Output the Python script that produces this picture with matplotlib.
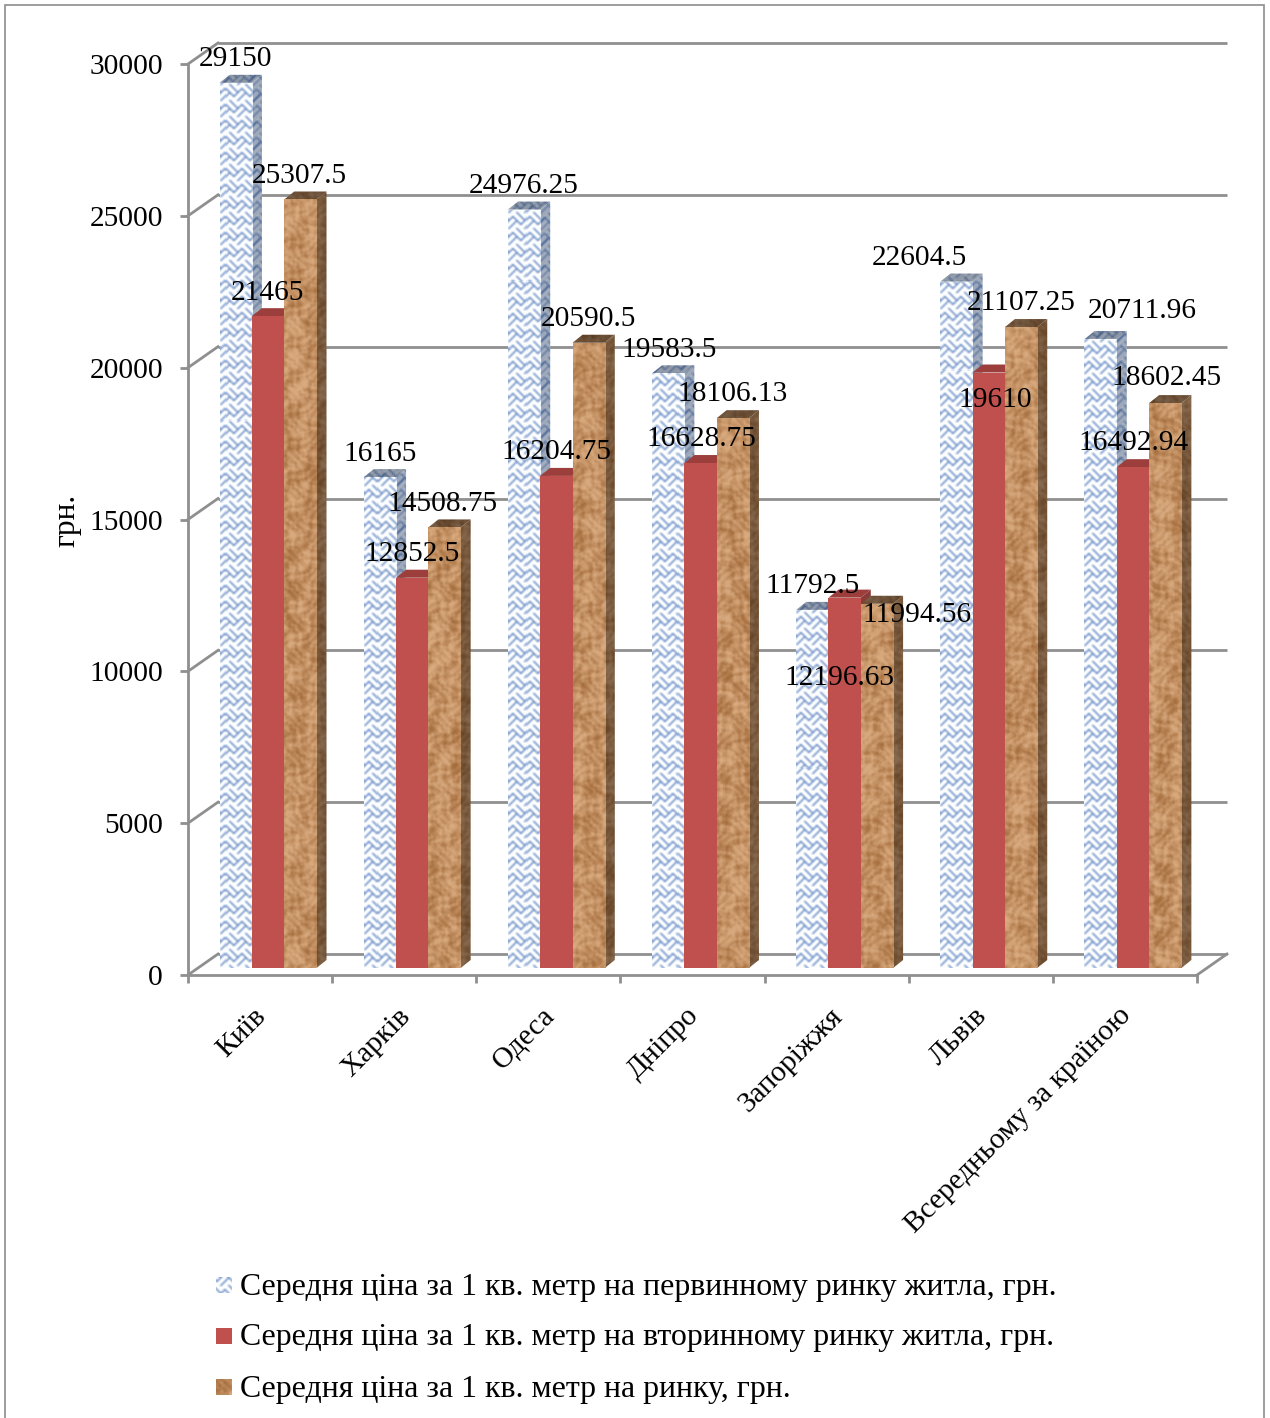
import numpy as np
import matplotlib
matplotlib.use('Agg')
import matplotlib.pyplot as plt
from matplotlib.patches import Polygon, Rectangle
from matplotlib.transforms import Affine2D, IdentityTransform

plt.rcParams['font.family'] = ['Liberation Serif', 'DejaVu Serif']

categories = ['Київ', 'Харків', 'Одеса', 'Дніпро', 'Запоріжжя', 'Львів', 'Всередньому за країною']
primary = [29150, 16165, 24976.25, 19583.5, 11792.5, 22604.5, 20711.96]
secondary = [21465, 12852.5, 16204.75, 16628.75, 12196.63, 19610, 16492.94]
market = [25307.5, 14508.75, 20590.5, 18106.13, 11994.56, 21107.25, 18602.45]
yticks = [0, 5000, 10000, 15000, 20000, 25000, 30000]
legend_labels = ['Середня ціна за 1 кв. метр на первинному ринку житла, грн.',
                 'Середня ціна за 1 кв. метр на вторинному ринку житла, грн.',
                 'Середня ціна за 1 кв. метр на ринку, грн.']

# label centres, in image pixels (primary, secondary, market)
primary_lab = [(235, 57), (380, 452), (524, 184), (669, 348), (813, 584), (919, 256), (1142, 309)]
secondary_lab = [(267, 291), (412, 552), (556, 450), (701, 437), (839, 676), (995, 398), (1134, 441)]
market_lab = [(299, 174), (443, 502), (588, 317), (733, 392), (917, 613), (1021, 301), (1166, 376)]

W, H = 1270, 1418
GRAY = '#8f8f8f'
FS = 21.2

fig = plt.figure(figsize=(W / 100, H / 100), dpi=100)
ax = fig.add_axes([188 / W, 1 - 975 / H, (1197 - 188) / W, 911 / H])
ax.set_xlim(0, 7)
ax.set_ylim(0, 30000)
ax.patch.set_visible(False)


def soften(img):
    # small box blur, the reference is a scaled up picture
    out = img.copy()
    for axis in (0, 1):
        out = (np.roll(out, 1, axis) + out + np.roll(out, -1, axis)) / 3
    return out


def weave(shade=1.0, dense=False):
    # blue basket weave texture, one pixel per image pixel
    yy, xx = np.mgrid[0:H, 0:W]
    u, v = xx + yy, xx - yy
    block = (u // 16 + v // 16) % 2 == 0
    line = np.where(block, u % 8 < 2, v % 8 < 2)
    dots = (xx + yy) % 2 == 0
    if dense:
        line = line | ((xx + 2 * yy) % 3 == 0)
    amount = (line * (0.75 + 0.25 * dots))[..., None]
    paper = np.array([0.99, 0.995, 1.0])
    ink = np.array([0.30, 0.46, 0.72])
    return soften((paper * (1 - amount) + ink * amount) * shade)


def cork(shade=1.0):
    # brown mottled texture made of overlapping waves
    yy, xx = np.mgrid[0:H, 0:W].astype(float)
    a = np.sin(xx * 0.41 + 2.6 * np.sin(yy * 0.19)) * np.sin(yy * 0.37 + 2.4 * np.sin(xx * 0.17))
    b = np.sin(xx * 0.13 + 1.8 * np.sin(yy * 0.07)) * np.sin(yy * 0.11 + 1.6 * np.sin(xx * 0.05))
    c = np.sin(xx * 0.83 + 3.1 * np.sin(yy * 0.31)) * np.sin(yy * 0.79 + 2.7 * np.sin(xx * 0.29))
    f = 0.6 + 0.35 * a + 0.2 * b + 0.3 * c
    f = np.clip(f, 0, 1)[..., None]
    dark = np.array([0.64, 0.42, 0.23])
    light = np.array([0.85, 0.67, 0.50])
    return soften((dark * (1 - f) + light * f) * shade)


tex_blue = weave()
tex_blue_side = weave(0.8, True)
tex_blue_top = weave(0.72, True)
tex_brown = cork()
tex_brown_side = cork(0.62)
tex_brown_top = cork(0.55)


def textured(patch, tex, z):
    patch.set_zorder(z)
    im = ax.imshow(tex, extent=(0, W, 0, H), origin='lower', aspect='auto', transform=IdentityTransform(),
                   interpolation='nearest', zorder=z)
    im.set_clip_path(patch)
    return im


# back wall and side diagonals
back = ax.transData + Affine2D().translate(30, 21)
ax.hlines(yticks, 0, 7, color=GRAY, lw=2, transform=back, clip_on=False, zorder=1)
for v in yticks:
    p0 = ax.transData.transform((0, v))
    ax.plot([p0[0], p0[0] + 30], [p0[1], p0[1] + 21], color=GRAY, lw=2, transform=IdentityTransform(),
            clip_on=False, zorder=1)
p0 = ax.transData.transform((7, 0))
ax.plot([p0[0], p0[0] + 30], [p0[1], p0[1] + 21], color=GRAY, lw=2, transform=IdentityTransform(),
        clip_on=False, zorder=1)
ax.set_xlim(0, 7)
ax.set_ylim(0, 30000)

# bars
bar_w = 32.3 / (1009 / 7)
DX, DY = 10, 8
front = ax.transData + Affine2D().translate(8, 7)
x = np.arange(len(categories)) + 0.5
series = [
    (primary, -bar_w, 'none', (tex_blue, tex_blue_side, tex_blue_top)),
    (secondary, 0, '#c0504d', None),
    (market, bar_w, 'none', (tex_brown, tex_brown_side, tex_brown_top)),
]
z = 3
for values, shift, color, tex in series:
    bars = ax.bar(x + shift, values, bar_w, color=color, transform=front, clip_on=False, zorder=z)
    for rect, v in zip(bars, values):
        left = rect.get_x()
        (x0, y0), (x1, y1) = front.transform([(left, 0), (left + bar_w, v)])
        side = Polygon([(x1, y0), (x1 + DX, y0 + DY), (x1 + DX, y1 + DY), (x1, y1)],
                       transform=IdentityTransform(), lw=0, fc='#8c3a38', clip_on=False)
        top = Polygon([(x0, y1), (x0 + DX, y1 + DY), (x1 + DX, y1 + DY), (x1, y1)],
                      transform=IdentityTransform(), lw=0, fc='#9c3f3c', clip_on=False)
        ax.add_patch(side)
        ax.add_patch(top)
        side.set_zorder(z)
        top.set_zorder(z)
        rect.set_zorder(z + 0.1)
        if tex is not None:
            side.set_visible(False)
            top.set_visible(False)
            rect.set_visible(False)
            textured(side, tex[1], z)
            textured(top, tex[2], z)
            textured(rect, tex[0], z + 0.1)
        z += 0.2
ax.set_xlim(0, 7)
ax.set_ylim(0, 30000)

# axes
for name in ['top', 'right']:
    ax.spines[name].set_visible(False)
for name in ['left', 'bottom']:
    ax.spines[name].set_color(GRAY)
    ax.spines[name].set_linewidth(2)
ax.set_yticks(yticks)
ax.set_yticklabels([str(v) for v in yticks], fontsize=FS)
ax.tick_params(axis='y', length=6, width=2, color=GRAY, pad=12)
ax.set_xticks(np.arange(8))
ax.set_xticklabels([])
ax.tick_params(axis='x', which='major', length=6, width=2, color=GRAY)
ax.set_xticks(x - 0.05, categories, minor=True, fontsize=FS, rotation=45, ha='right', va='top',
              rotation_mode='anchor')
ax.tick_params(axis='x', which='minor', length=0, pad=20)

fig.text(67 / W, 1 - 520 / H, 'грн.', rotation=90, fontsize=22.5, ha='center', va='center')

# data labels
for values, places in [(primary, primary_lab), (secondary, secondary_lab), (market, market_lab)]:
    for v, (px, py) in zip(values, places):
        fig.text(px / W, 1 - (py + 2) / H, f'{v:.2f}'.rstrip('0').rstrip('.'), fontsize=FS,
                 ha='center', va='center', zorder=20)

# legend
legend_y = [1285, 1336, 1387]
legend_tex = [tex_blue, None, tex_brown]
for label, ly, tex in zip(legend_labels, legend_y, legend_tex):
    box = Rectangle((216, H - ly - 8), 16, 16, transform=IdentityTransform(), fc='#c0504d', lw=0, clip_on=False)
    ax.add_patch(box)
    box.set_zorder(5)
    if tex is not None:
        box.set_visible(False)
        textured(box, tex, 5)
    fig.text(240 / W, 1 - (ly + 2) / H, label, fontsize=22.95, ha='left', va='center')

# outer frame, bottom edge falls outside the picture
fig.add_artist(Rectangle((5 / W, -0.01), (1264 - 5) / W, 1.01 - 5 / H, transform=fig.transFigure,
                         fc='none', ec='#8c8c8c', lw=1.2))

ax.set_xlim(0, 7)
ax.set_ylim(0, 30000)
fig.savefig('out.png', dpi=100)
